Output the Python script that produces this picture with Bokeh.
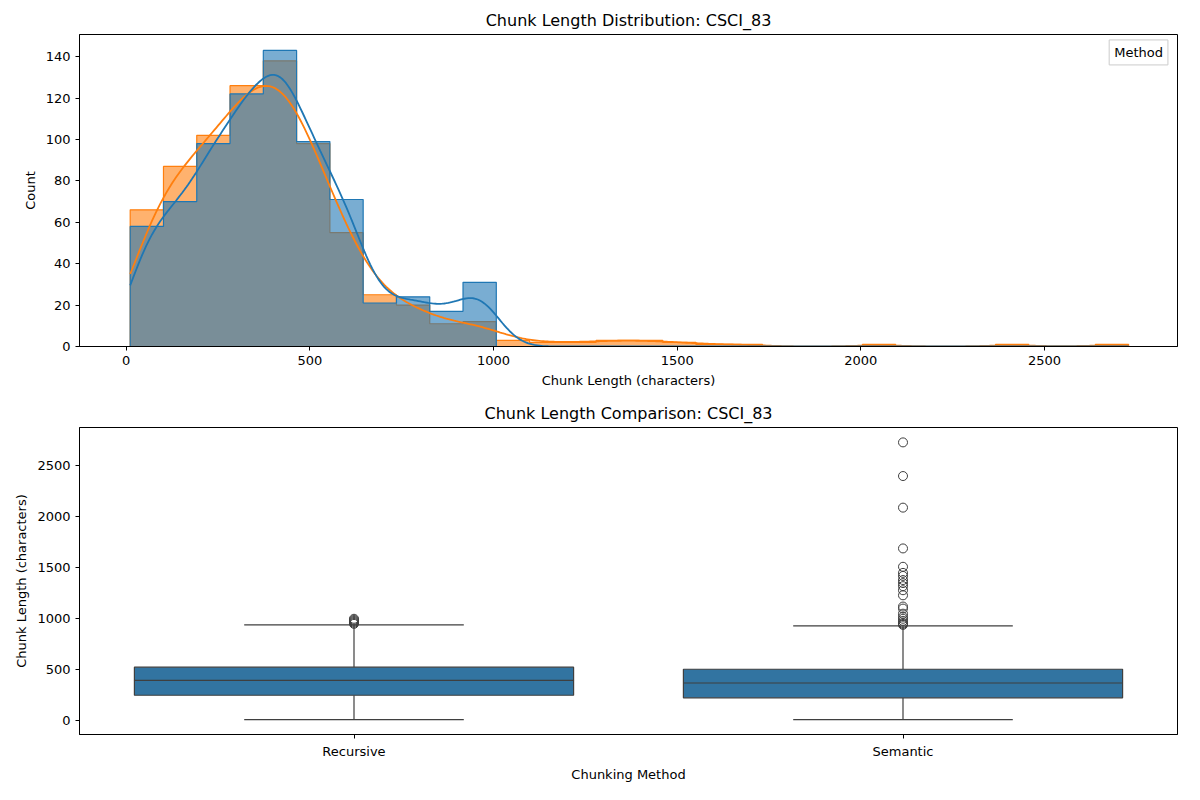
import numpy as np
from bokeh.plotting import figure
from bokeh.layouts import column
from bokeh.models import Range1d, FactorRange, Label, FixedTicker
from bokeh.embed import file_html
from bokeh.resources import INLINE

# histogram data (30 bins)
bin_start = 11.0
bin_width = 90.6
recursive_counts = [58, 70, 98, 122, 143, 99, 71, 21, 24, 17, 31, 0, 0, 0, 0,
                    0, 0, 0, 0, 0, 0, 0, 0, 0, 0, 0, 0, 0, 0, 0]
semantic_counts = [66, 87, 102, 126, 138, 98, 55, 25, 20, 11, 12, 3, 2, 2, 3,
                   3, 2, 1, 1, 0, 0, 0, 1, 0, 0, 0, 1, 0, 0, 1]

# box plot stats
methods = ["Recursive", "Semantic"]
q1 = [250, 225]
median = [395, 370]
q3 = [525, 505]
whisk_lo = [10, 10]
whisk_hi = [940, 930]
recursive_outliers = [950, 960, 970, 980, 990, 1000]
semantic_outliers = [940, 950, 960, 980, 1000, 1020, 1050, 1100, 1120, 1230, 1280,
                     1320, 1350, 1380, 1420, 1450, 1510, 1690, 2090, 2400, 2730]

BLUE = "#1f77b4"
ORANGE = "#ff7f0e"
FONT = "DejaVu Sans"


def style(p):
    p.xgrid.grid_line_color = None
    p.ygrid.grid_line_color = None
    p.outline_line_color = "black"
    p.title.align = "center"
    p.title.text_font = FONT
    p.title.text_font_size = "16px"
    p.title.text_font_style = "normal"
    p.title.text_color = "black"
    for ax in p.xaxis + p.yaxis:
        ax.axis_label_text_font = FONT
        ax.axis_label_text_font_size = "13px"
        ax.axis_label_text_font_style = "normal"
        ax.axis_label_text_color = "black"
        ax.major_label_text_font = FONT
        ax.major_label_text_font_size = "13px"
        ax.major_label_text_color = "black"
        ax.minor_tick_line_color = None
        ax.major_tick_out = 4
        ax.major_tick_in = 0
        ax.axis_line_color = "black"
        ax.major_tick_line_color = "black"


p1 = figure(width=1192, height=392, title="Chunk Length Distribution: CSCI_83",
            x_axis_label="Chunk Length (characters)", y_axis_label="Count",
            x_range=Range1d(-127, 2862), y_range=Range1d(0, 150.7),
            output_backend="svg", toolbar_location=None,
            min_border_left=79, min_border_right=15, min_border_top=34, min_border_bottom=46)
p1.xaxis.ticker = FixedTicker(ticks=[0, 500, 1000, 1500, 2000, 2500])
p1.yaxis.ticker = FixedTicker(ticks=list(range(0, 141, 20)))

edges = bin_start + bin_width * np.arange(31)
centers = (edges[:-1] + edges[1:]) / 2


def outline(counts):
    xs, ys = [edges[0]], [0]
    for i, c in enumerate(counts):
        xs += [edges[i], edges[i + 1]]
        ys += [c, c]
    xs.append(edges[-1])
    ys.append(0)
    return xs, ys


def kde(counts, lo, hi):
    c = np.array(counts, float)
    n = c.sum()
    mean = (c * centers).sum() / n
    sd = np.sqrt((c * (centers - mean) ** 2).sum() / n)
    bw = sd * n ** -0.2
    xs = np.linspace(lo, hi, 500)
    dens = (c[None, :] * np.exp(-0.5 * ((xs[:, None] - centers[None, :]) / bw) ** 2)).sum(1)
    dens /= (n * bw * np.sqrt(2 * np.pi))
    return xs, dens * n * bin_width


for counts, col in [(semantic_counts, ORANGE), (recursive_counts, BLUE)]:
    xs, ys = outline(counts)
    p1.patch(xs, ys, fill_color=col, fill_alpha=0.6, line_color=None)
    p1.line(xs, ys, line_color=col, line_width=1.2)

for counts, col in [(semantic_counts, ORANGE), (recursive_counts, BLUE)]:
    kx, ky = kde(counts, edges[0], edges[-1])
    p1.line(kx, ky, line_color=col, line_width=1.8)

p1.add_layout(Label(x=2676, y=136, text="Method",
                    text_font=FONT, text_font_size="13px", text_color="black",
                    border_line_color="#cccccc", background_fill_color="white",
                    padding=5))
style(p1)

p2 = figure(width=1192, height=392, title="Chunk Length Comparison: CSCI_83",
            x_axis_label="Chunking Method", y_axis_label="Chunk Length (characters)",
            x_range=FactorRange(*methods, range_padding=0.0), y_range=Range1d(-135, 2876),
            output_backend="svg", toolbar_location=None,
            min_border_left=79, min_border_right=15, min_border_top=35, min_border_bottom=45)
p2.x_range.range_padding = 0
p2.yaxis.ticker = FixedTicker(ticks=[0, 500, 1000, 1500, 2000, 2500])
GRAY = "#3f3f3f"
p2.segment(x0=methods, y0=whisk_lo, x1=methods, y1=q1, line_color=GRAY, line_width=1.2)
p2.segment(x0=methods, y0=q3, x1=methods, y1=whisk_hi, line_color=GRAY, line_width=1.2)
p2.vbar(x=methods, bottom=q1, top=q3, width=0.8, fill_color="#3274a1",
        line_color=GRAY, line_width=1.2)
p2.rect(x=methods, y=median, width=0.8, height=0.01, height_units="screen",
        fill_color=None, line_color=GRAY, line_width=1.2)
for m, lo, hi in zip(methods, whisk_lo, whisk_hi):
    p2.segment(x0=[(m, -0.2), (m, -0.2)], y0=[lo, hi], x1=[(m, 0.2), (m, 0.2)], y1=[lo, hi],
               line_color=GRAY, line_width=1.2)
p2.scatter(["Recursive"] * len(recursive_outliers), recursive_outliers, size=9,
           fill_color=None, line_color=GRAY, line_width=1)
p2.scatter(["Semantic"] * len(semantic_outliers), semantic_outliers, size=9,
           fill_color=None, line_color=GRAY, line_width=1)
style(p2)

layout = column(p1, p2, spacing=0)
open("out.html", "w").write(file_html(layout, INLINE))
